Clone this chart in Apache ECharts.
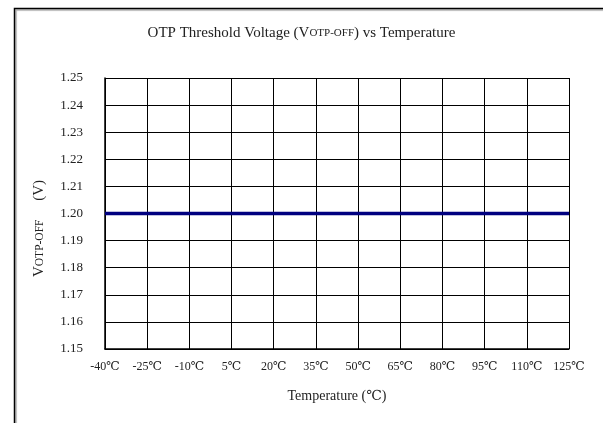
<!DOCTYPE html>
<html>
<head>
<meta charset="utf-8">
<script src="https://cdn.jsdelivr.net/npm/echarts@6/dist/echarts.min.js"></script>
<style>html,body{margin:0;padding:0;background:#fff;}#c{width:603px;height:423px;}</style>
</head>
<body>
<div id="c"></div>
<script>
var temperatures = ['-40℃','-25℃','-10℃','5℃','20℃','35℃','50℃','65℃','80℃','95℃','110℃','125℃'];
var votpOff = [1.20,1.20,1.20,1.20,1.20,1.20,1.20,1.20,1.20,1.20,1.20,1.20];
var yMin = 1.15, yMax = 1.25, yStep = 0.01;

var chart = echarts.init(document.getElementById('c'));
var serif = '"Liberation Serif","DejaVu Serif",serif';
chart.setOption({
  backgroundColor: '#fff',
  animation: false,
  graphic: [{
    type: 'rect', left: 12, top: 6,
    shape: {width: 700, height: 500},
    style: {fill: 'none', stroke: '#000', lineWidth: 1.5, shadowColor: 'rgba(0,0,0,0.35)', shadowOffsetX: 1.5, shadowOffsetY: 1.5, shadowBlur: 1},
    z: -1
  }],
  title: {
    text: 'OTP Threshold Voltage (V{s|OTP-OFF}) vs Temperature',
    left: 'center', top: 21,
    textStyle: {fontFamily: serif, fontSize: 15, fontWeight: 'normal', color: '#222',
      rich: {s: {fontFamily: serif, fontSize: 11, color: '#222'}}}
  },
  grid: {left: 105, right: 34, top: 78, bottom: 74},
  xAxis: {
    type: 'category', data: temperatures, boundaryGap: false,
    name: 'Temperature (℃)', nameLocation: 'middle', nameGap: 40,
    nameTextStyle: {fontFamily: serif, fontSize: 14, color: '#222'},
    axisLine: {lineStyle: {color: '#000', width: 1.5}},
    axisTick: {show: false},
    axisLabel: {fontFamily: serif, fontSize: 12, color: '#222', margin: 12},
    splitLine: {show: true, lineStyle: {color: '#000', width: 1}}
  },
  yAxis: {
    type: 'value', min: yMin, max: yMax, interval: yStep,
    name: 'V{s|OTP-OFF}     (V)', nameLocation: 'middle', nameGap: 58, nameRotate: 90,
    nameTextStyle: {fontFamily: serif, fontSize: 15, color: '#222', padding: [0, 30, 0, 0],
      rich: {s: {fontFamily: serif, fontSize: 11.5, color: '#222'}}},
    axisLine: {show: true, lineStyle: {color: '#000', width: 1.5}},
    axisTick: {show: false},
    axisLabel: {fontFamily: serif, fontSize: 13, color: '#222', margin: 22,
      formatter: function (v) { return v.toFixed(2); }},
    splitLine: {show: true, lineStyle: {color: '#000', width: 1}}
  },
  series: [{
    type: 'line', data: votpOff, symbol: 'none',
    lineStyle: {color: '#000080', width: 3.5}
  }]
});
</script>
</body>
</html>
